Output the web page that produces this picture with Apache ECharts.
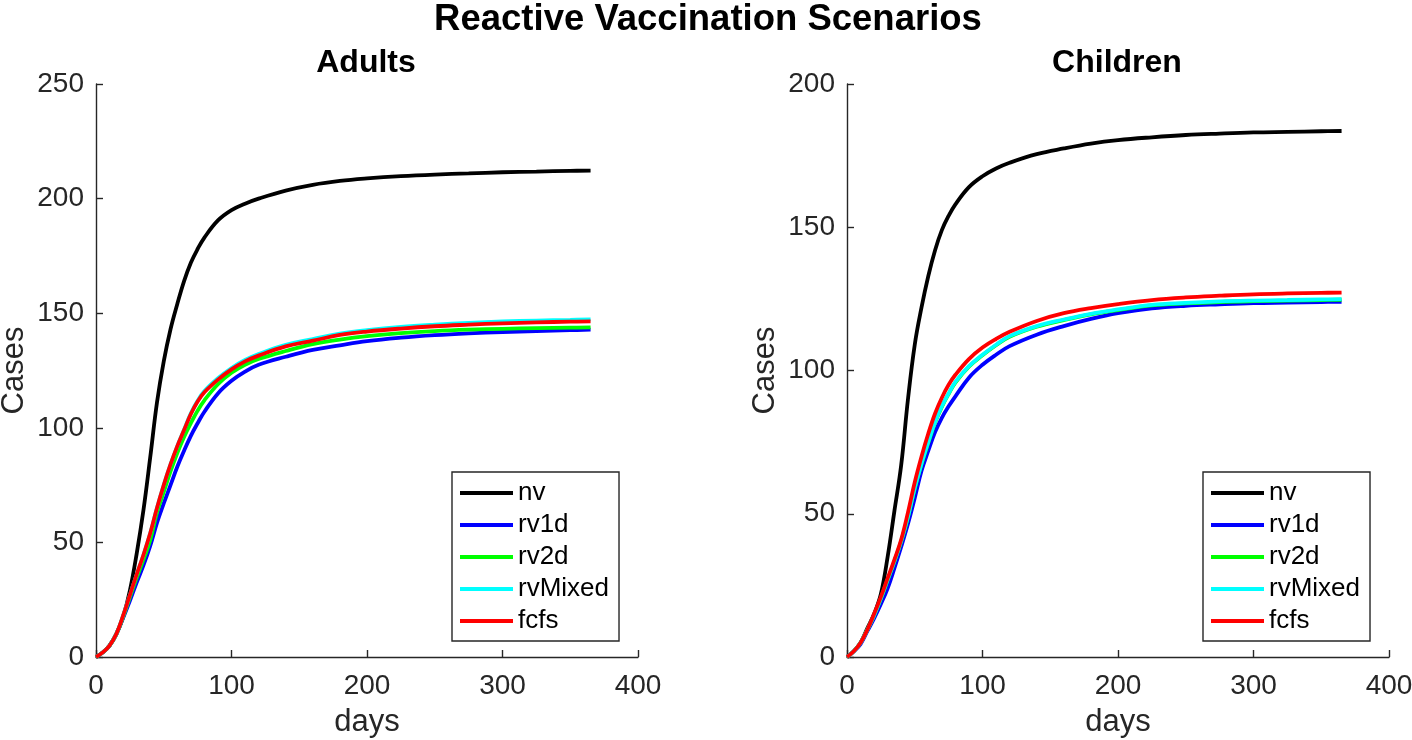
<!DOCTYPE html>
<html>
<head>
<meta charset="utf-8">
<script src="https://cdn.jsdelivr.net/npm/echarts@6/dist/echarts.min.js"></script>
<style>
html,body{margin:0;padding:0;background:#fff;}
#chart{width:1412px;height:740px;}
</style>
</head>
<body>
<div id="chart"></div>
<script>
// ---- data ----
const days = [0,5,10,15,20,25,30,35,40,45,50,55,60,65,70,75,80,90,100,110,120,140,160,180,200,225,250,275,300,325,350,365];
const seriesNames = ['nv','rv1d','rv2d','rvMixed','fcfs'];
const seriesColors = ['#000000','#0000ff','#00ff00','#00ffff','#ff0000'];
const xTicks = [0,100,200,300,400];
const adultsYTicks = [0,50,100,150,200,250];
const childrenYTicks = [0,50,100,150,200];

// Adults
const adultsNv      = [0,2,5,10,17.5,29,45,64,87,111,129,143,154,164,172,178,183,190.5,195,197.8,200,203.5,206,207.7,208.8,209.8,210.5,211,211.5,211.8,212.1,212.2];
const adultsRv1d    = [0,2,5,10,17,24.5,32.5,40,48.5,58.5,67,75,83,90,96.5,102,107,115,120.5,124.5,127.5,131,134,136,137.8,139.3,140.4,141.2,141.8,142.2,142.6,142.8];
const adultsRv2d    = [0,2,5,10,17.5,26,34.5,42.5,51,63,72,81,89,96,102,107.5,112,119,124,127.5,130,133.5,136.5,138.5,140,141.3,142.2,142.8,143.2,143.5,143.7,143.8];
const adultsRvMixed = [0,2,5,10,18,27,36,44.5,54,65,75,84,92,99.2,106.3,111.8,116,121.6,126.1,129.6,132.2,136.2,138.7,141.1,142.6,144,145,145.8,146.4,146.8,147.1,147.3];
const adultsFcfs    = [0,2,5,10,18,27,36,44.5,54,65,75,84,92,99,106,111.5,115.5,121,125.5,129,131.5,135.5,138,140.5,142,143.3,144.3,145,145.6,146,146.3,146.4];

// Children
const childrenNv      = [0,2,5,10,15,22,35,51,67,90,109,122,133,142,149,154,158,164,167.8,170.5,172.5,175.5,177.5,179.2,180.4,181.4,182.2,182.7,183.1,183.3,183.5,183.6];
const childrenRv1d    = [0,2,4.5,9,13.5,18.5,24,31,38.5,46.5,55.5,65,72,78.5,83.5,87.5,91,97.5,102,105.5,108.5,112.5,115.5,118,120,121.7,122.6,123.1,123.5,123.7,123.9,124];
const childrenRv2d    = [0,2,5,9.5,14.5,20.3,26.8,33.3,40.3,48.8,58.8,67.3,74.8,81.8,87.3,91.8,95.8,101.3,105.3,108.8,111.8,115.3,117.6,119.6,121.1,122.7,123.4,123.9,124.2,124.4,124.6,124.7];
const childrenRvMixed = [0,2,5,9.5,14.5,20.5,27,33.5,40.5,49,59,67.5,75,82,87.5,92,96,101.5,105.5,109,112,115.5,117.8,119.8,121.3,122.9,123.6,124.1,124.4,124.6,124.8,124.9];
const childrenFcfs    = [0,2,5,9.5,15,21,27.5,34,41,50.5,61,70,78,85,90.5,95,98.5,104,108,111,113.5,117.3,120,121.8,123.2,124.6,125.5,126.1,126.6,126.9,127.1,127.2];

const adultsData = [adultsNv, adultsRv1d, adultsRv2d, adultsRvMixed, adultsFcfs];
const childrenData = [childrenNv, childrenRv1d, childrenRv2d, childrenRvMixed, childrenFcfs];

// ---- chart ----
const FONT = 'Liberation Sans, Arial, Helvetica, sans-serif';
const AX = '#262626';
function pairs(arr){ return days.map((d,i)=>[d,arr[i]]); }

function xAxisCfg(gi){
  return {
    gridIndex: gi, type:'value', min:0, max:400, interval:100,
    axisLine:{show:true, onZero:false, lineStyle:{color:AX, width:1.4}},
    axisTick:{show:true, inside:true, length:7, lineStyle:{color:AX, width:1.4}},
    axisLabel:{color:AX, fontSize:28, fontFamily:FONT, margin:15},
    splitLine:{show:false},
    name:'days', nameLocation:'middle', nameGap:50,
    nameTextStyle:{color:AX, fontSize:31, fontFamily:FONT}
  };
}
function yAxisCfg(gi, max){
  return {
    gridIndex: gi, type:'value', min:0, max:max, interval:50,
    axisLine:{show:true, onZero:false, lineStyle:{color:AX, width:1.4}},
    axisTick:{show:true, inside:true, length:7, lineStyle:{color:AX, width:1.4}},
    axisLabel:{color:AX, fontSize:28, fontFamily:FONT, margin:12},
    splitLine:{show:false},
    name:'Cases', nameLocation:'middle', nameGap:66, nameRotate:90,
    nameTextStyle:{color:AX, fontSize:31, fontFamily:FONT}
  };
}

const series = [];
[adultsData, childrenData].forEach((set, gi)=>{
  set.forEach((arr, si)=>{
    series.push({
      name: seriesNames[si], type:'line', xAxisIndex:gi, yAxisIndex:gi,
      data: pairs(arr), symbol:'none', showSymbol:false, smooth:0.4,
      lineStyle:{color:seriesColors[si], width:3.8},
      itemStyle:{color:seriesColors[si]},
      animation:false, z: 2+si
    });
  });
});

function legendCfg(left){
  return {
    data: seriesNames.map(n=>({name:n, icon:'rect'})), orient:'vertical', left:left, top:472,
    itemWidth:53, itemHeight:3.8, itemGap:6,
    padding:[8,10,7,8],
    borderColor:AX, borderWidth:1.4, backgroundColor:'#ffffff',
    textStyle:{color:'#000', fontSize:26, fontFamily:FONT, lineHeight:24},
    selectedMode:false
  };
}

const option = {
  animation:false,
  backgroundColor:'#ffffff',
  title:[
    {text:'Reactive Vaccination Scenarios', left:703, top:-4, textAlign:'center',
     textStyle:{fontSize:36.5, fontWeight:'bold', color:'#000', fontFamily:FONT}},
    {text:'Adults', left:361, top:42, textAlign:'center',
     textStyle:{fontSize:32, fontWeight:'bold', color:'#000', fontFamily:FONT}},
    {text:'Children', left:1112, top:42, textAlign:'center',
     textStyle:{fontSize:32, fontWeight:'bold', color:'#000', fontFamily:FONT}}
  ],
  grid:[
    {left:96, top:84, width:542, height:573, containLabel:false, outerBoundsMode:'none'},
    {left:847, top:84, width:542, height:573, containLabel:false, outerBoundsMode:'none'}
  ],
  xAxis:[xAxisCfg(0), xAxisCfg(1)],
  yAxis:[yAxisCfg(0,250), yAxisCfg(1,200)],
  legend:[legendCfg(452), legendCfg(1203)],
  series: series
};

const chart = echarts.init(document.getElementById('chart'), null, {renderer:'canvas'});
chart.setOption(option);
</script>
</body>
</html>
